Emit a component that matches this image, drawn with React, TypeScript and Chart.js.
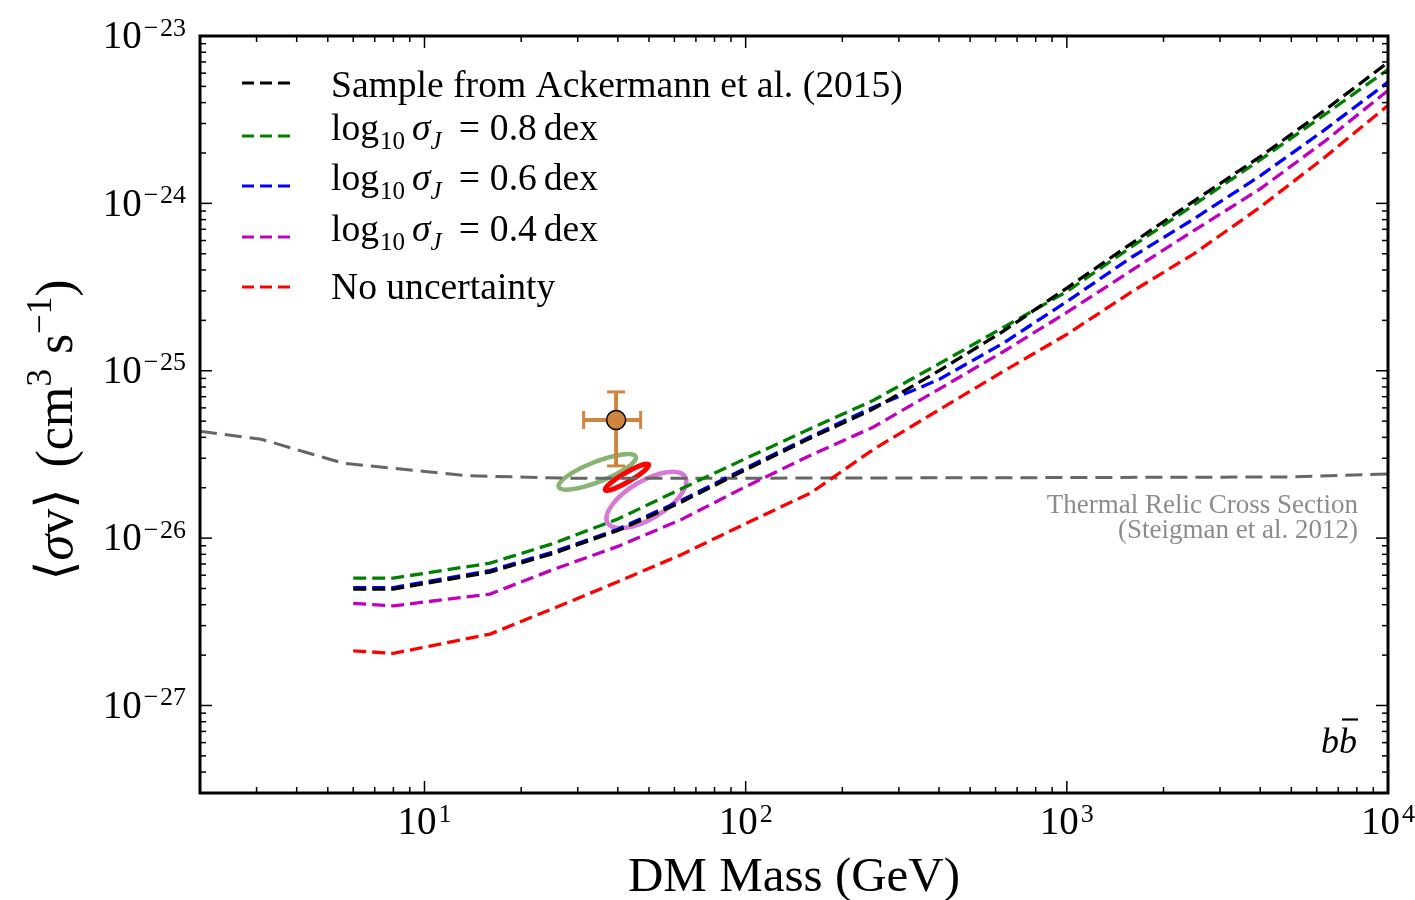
import React, { useEffect, useRef } from 'react';
import { Chart, registerables } from 'chart.js';

Chart.register(...registerables);

// ---------------- data ----------------
const masses = [6, 8, 16, 25, 40, 63, 100, 160, 250, 400, 630, 1000, 1600, 2500, 4000, 6300, 10000];
const ackermann2015 = [4.96e-27, 4.96e-27, 6.27e-27, 8.06e-27, 1.11e-26, 1.64e-26, 2.56e-26, 3.98e-26, 5.92e-26, 1.0e-25, 1.71e-25, 3.12e-25, 5.81e-25, 1.04e-24, 1.9e-24, 3.56e-24, 6.95e-24];
const sigmaJ08 = [5.77e-27, 5.77e-27, 7.09e-27, 9.25e-27, 1.3e-26, 1.97e-26, 2.99e-26, 4.53e-26, 6.66e-26, 1.1e-25, 1.8e-25, 2.97e-25, 5.55e-25, 9.86e-25, 1.82e-24, 3.35e-24, 6.31e-24];
const sigmaJ06 = [5.06e-27, 5.06e-27, 6.4e-27, 8.23e-27, 1.13e-26, 1.68e-26, 2.62e-26, 4.06e-26, 6.06e-26, 8.87e-26, 1.45e-25, 2.59e-25, 4.8e-25, 8.13e-25, 1.46e-24, 2.72e-24, 5.3e-24];
const sigmaJ04 = [4.07e-27, 3.94e-27, 4.63e-27, 6.46e-27, 8.92e-27, 1.29e-26, 2.03e-26, 3.14e-26, 4.61e-26, 7.77e-26, 1.29e-25, 2.23e-25, 4.0e-25, 6.92e-25, 1.22e-24, 2.32e-24, 4.73e-24];
const noUncertainty = [2.12e-27, 2.05e-27, 2.67e-27, 3.78e-27, 5.49e-27, 7.96e-27, 1.22e-26, 1.87e-26, 3.39e-26, 5.84e-26, 9.84e-26, 1.65e-25, 2.98e-25, 5.03e-25, 9.5e-25, 1.86e-24, 3.85e-24];

const thermalMasses = [2, 3.1, 5.6, 13.5, 28, 100, 1000, 5000, 10000];
const thermalRelic = [4.35e-26, 3.9e-26, 2.8e-26, 2.36e-26, 2.28e-26, 2.28e-26, 2.3e-26, 2.32e-26, 2.42e-26];

const fitMass = 39.5;
const fitMassRange = [31.3, 47.1];
const fitCrossSection = 5.08e-26;
const fitCrossSectionRange = [2.7e-26, 7.47e-26];

const contourCenterMass = [34.5, 42.7, 49.1];
const contourCenterSv = [2.49e-26, 2.31e-26, 1.69e-26];
const contourMajorTipMass = [45.5, 49.9, 64.8];
const contourMajorTipSv = [3.07e-26, 2.75e-26, 2.32e-26];
const contourMinorTipMass = [35.4, 43.45, 52.6];
const contourMinorTipSv = [2.19e-26, 2.19e-26, 1.35e-26];

const xTickExponents = [1, 2, 3, 4];
const yTickExponents = [-27, -26, -25, -24, -23];

const seriesLabels = [
  'Sample from Ackermann et al. (2015)',
  'log10 σJ = 0.8 dex',
  'log10 σJ = 0.6 dex',
  'log10 σJ = 0.4 dex',
  'No uncertainty',
];
const legendValues = ['0.8', '0.6', '0.4'];

// ---------------- styles ----------------
const seriesColors = ['#000000', '#008000', '#0000ff', '#bf00bf', '#ff0000'];
const contourColors = ['#88b373', '#ff0000', '#d878d4'];
const contourWidths = [4.5, 5, 4.5];
const FONT = '"Liberation Serif", "DejaVu Serif", "DejaVu Sans", serif';
const R = (s: number) => `${s}px ${FONT}`;
const I = (s: number) => `italic ${s}px ${FONT}`;

type Seg = { t: string; f: string; dy?: number; pre?: number };

function drawRich(ctx: CanvasRenderingContext2D, segs: Seg[], x: number, y: number, align: 'left' | 'center' | 'right') {
  let total = 0;
  for (const s of segs) {
    ctx.font = s.f;
    total += ctx.measureText(s.t).width + (s.pre || 0);
  }
  let cx = align === 'left' ? x : align === 'center' ? x - total / 2 : x - total;
  ctx.textAlign = 'left';
  ctx.textBaseline = 'alphabetic';
  for (const s of segs) {
    ctx.font = s.f;
    cx += s.pre || 0;
    ctx.fillText(s.t, cx, y + (s.dy || 0));
    cx += ctx.measureText(s.t).width;
  }
}

function line(ctx: CanvasRenderingContext2D, x1: number, y1: number, x2: number, y2: number) {
  ctx.beginPath();
  ctx.moveTo(x1, y1);
  ctx.lineTo(x2, y2);
  ctx.stroke();
}

const contourPlugin = {
  id: 'contours',
  beforeDatasetsDraw(chart: any) {
    const ctx = chart.ctx as CanvasRenderingContext2D;
    const xs = chart.scales.x;
    const ys = chart.scales.y;
    ctx.save();
    for (let i = 0; i < contourCenterMass.length; i++) {
      const cx = xs.getPixelForValue(contourCenterMass[i]);
      const cy = ys.getPixelForValue(contourCenterSv[i]);
      const mx = xs.getPixelForValue(contourMajorTipMass[i]);
      const my = ys.getPixelForValue(contourMajorTipSv[i]);
      const nx = xs.getPixelForValue(contourMinorTipMass[i]);
      const ny = ys.getPixelForValue(contourMinorTipSv[i]);
      const a = Math.hypot(mx - cx, my - cy);
      const b = Math.hypot(nx - cx, ny - cy);
      const ang = Math.atan2(my - cy, mx - cx);
      ctx.beginPath();
      ctx.ellipse(cx, cy, a, b, ang, 0, Math.PI * 2);
      ctx.strokeStyle = contourColors[i];
      ctx.lineWidth = contourWidths[i];
      ctx.stroke();
    }
    ctx.restore();
  },
  afterDatasetsDraw(chart: any) {
    const ctx = chart.ctx as CanvasRenderingContext2D;
    const xs = chart.scales.x;
    const ys = chart.scales.y;
    const px = xs.getPixelForValue(fitMass);
    const py = ys.getPixelForValue(fitCrossSection);
    const x1 = xs.getPixelForValue(fitMassRange[0]);
    const x2 = xs.getPixelForValue(fitMassRange[1]);
    const y1 = ys.getPixelForValue(fitCrossSectionRange[0]);
    const y2 = ys.getPixelForValue(fitCrossSectionRange[1]);
    ctx.save();
    ctx.strokeStyle = '#cd853f';
    ctx.lineWidth = 4;
    line(ctx, x1, py, x2, py);
    line(ctx, px, y1, px, y2);
    ctx.lineWidth = 3;
    const cap = 9;
    line(ctx, x1, py - cap, x1, py + cap);
    line(ctx, x2, py - cap, x2, py + cap);
    line(ctx, px - cap, y1, px + cap, y1);
    line(ctx, px - cap, y2, px + cap, y2);
    ctx.beginPath();
    ctx.arc(px, py, 9.5, 0, Math.PI * 2);
    ctx.fillStyle = '#cd853f';
    ctx.fill();
    ctx.lineWidth = 1.5;
    ctx.strokeStyle = '#000000';
    ctx.stroke();
    ctx.restore();
  },
  afterDraw(chart: any) {
    const ctx = chart.ctx as CanvasRenderingContext2D;
    const xs = chart.scales.x;
    const ys = chart.scales.y;
    const { left, right, top, bottom } = chart.chartArea;
    ctx.save();
    // ticks
    ctx.strokeStyle = '#000';
    ctx.lineWidth = 1.5;
    for (let e = 0; e <= 4; e++) {
      for (let k = 1; k <= 9; k++) {
        const v = k * Math.pow(10, e);
        if (v < 2 * 0.999 || v > 10000 * 1.001) continue;
        const p = xs.getPixelForValue(v);
        const len = k === 1 ? 12 : 6;
        line(ctx, p, bottom, p, bottom - len);
        line(ctx, p, top, p, top + len);
      }
    }
    for (let e = -28; e <= -23; e++) {
      for (let k = 1; k <= 9; k++) {
        const v = k * Math.pow(10, e);
        if (v < 3e-28 * 0.999 || v > 1e-23 * 1.001) continue;
        const p = ys.getPixelForValue(v);
        const len = k === 1 ? 12 : 6;
        line(ctx, left, p, left + len, p);
        line(ctx, right, p, right - len, p);
      }
    }
    // frame
    ctx.lineWidth = 3;
    ctx.strokeRect(left, top, right - left, bottom - top);

    ctx.fillStyle = '#000';
    // tick labels
    for (const e of xTickExponents) {
      const p = xs.getPixelForValue(Math.pow(10, e));
      drawRich(ctx, [{ t: '10', f: R(39) }, { t: String(e), f: R(26), dy: -12.6, pre: 2 }], p, bottom + 41.3, 'center');
    }
    for (const e of yTickExponents) {
      const p = ys.getPixelForValue(Math.pow(10, e));
      drawRich(
        ctx,
        [
          { t: '10', f: R(39) },
          { t: '\u2212', f: R(26), dy: -12.6, pre: 2 },
          { t: String(-e), f: R(26), dy: -12.6, pre: 1.5 },
        ],
        left - 14,
        p + 12.3,
        'right'
      );
    }

    // axis titles
    drawRich(ctx, [{ t: 'DM Mass (GeV)', f: R(49) }], (left + right) / 2, 891, 'center');
    ctx.save();
    ctx.translate(72, 430);
    ctx.rotate(-Math.PI / 2);
    drawRich(
      ctx,
      [
        { t: '\u27E8', f: R(52) },
        { t: 'σ', f: I(52) },
        { t: 'v', f: R(52) },
        { t: '\u27E9', f: R(52) },
        { t: ' (cm', f: R(52), pre: 8 },
        { t: '3', f: R(35), dy: -21 },
        { t: ' s', f: R(52), pre: 2 },
        { t: '\u22121', f: R(35), dy: -21 },
        { t: ')', f: R(52) },
      ],
      0,
      0,
      'center'
    );
    ctx.restore();

    // legend
    const lineYs = [83, 136, 186, 237, 287];
    const baseYs = [97, 140, 190, 241, 299];
    for (let i = 0; i < 5; i++) {
      ctx.save();
      ctx.strokeStyle = seriesColors[i];
      ctx.lineWidth = 3;
      ctx.setLineDash([12, 6]);
      line(ctx, 242, lineYs[i], 293, lineYs[i]);
      ctx.restore();
      ctx.fillStyle = '#000';
      if (i === 0 || i === 4) {
        drawRich(ctx, [{ t: seriesLabels[i], f: R(37.6) }], 331, baseYs[i], 'left');
      } else {
        drawRich(
          ctx,
          [
            { t: 'log', f: R(37.6) },
            { t: '10', f: R(25), dy: 9, pre: 1 },
            { t: 'σ', f: I(37.6), pre: 7 },
            { t: 'J', f: I(25), dy: 9 },
            { t: '=', f: R(37.6), pre: 17 },
            { t: legendValues[i - 1], f: R(37.6), pre: 10 },
            { t: 'dex', f: R(37.6), pre: 7 },
          ],
          331,
          baseYs[i],
          'left'
        );
      }
    }

    // annotations
    ctx.fillStyle = '#8c8c8c';
    drawRich(ctx, [{ t: 'Thermal Relic Cross Section', f: R(27) }], 1358, 513, 'right');
    drawRich(ctx, [{ t: '(Steigman et al. 2012)', f: R(27) }], 1358, 538, 'right');

    // b b-bar
    ctx.fillStyle = '#000';
    ctx.font = I(36);
    const wb = ctx.measureText('b').width;
    const bx = 1357 - 2 * wb;
    ctx.textAlign = 'left';
    ctx.fillText('b', bx, 753);
    ctx.fillText('b', bx + wb, 753);
    ctx.lineWidth = 2.2;
    ctx.strokeStyle = '#000';
    line(ctx, bx + wb + 3, 719.5, bx + 2 * wb + 1, 719.5);
    ctx.restore();
  },
};

export default function App() {
  const ref = useRef<HTMLCanvasElement | null>(null);
  useEffect(() => {
    if (!ref.current) return;
    const mk = (ys: number[], i: number) => ({
      label: seriesLabels[i],
      data: masses.map((m, j) => ({ x: m, y: ys[j] })),
      borderColor: seriesColors[i],
      borderWidth: 3.3,
      borderDash: [13, 6],
      pointRadius: 0,
      fill: false,
      tension: 0,
    });
    const chart = new Chart(ref.current, {
      type: 'line',
      data: {
        datasets: [
          mk(ackermann2015, 0),
          mk(sigmaJ08, 1),
          mk(sigmaJ06, 2),
          mk(sigmaJ04, 3),
          mk(noUncertainty, 4),
          {
            label: 'Thermal Relic Cross Section',
            data: thermalMasses.map((m, j) => ({ x: m, y: thermalRelic[j] })),
            borderColor: '#666666',
            borderWidth: 3,
            borderDash: [17, 8],
            pointRadius: 0,
            fill: false,
            tension: 0,
          },
        ] as any,
      },
      options: {
        animation: false,
        responsive: false,
        devicePixelRatio: 1,
        events: [],
        layout: { padding: { left: 200, top: 36, right: 27, bottom: 107 } },
        scales: {
          x: { type: 'logarithmic', min: 2, max: 10000, display: false },
          y: { type: 'logarithmic', min: 3e-28, max: 1e-23, display: false },
        },
        plugins: { legend: { display: false }, tooltip: { enabled: false } },
      },
      plugins: [contourPlugin],
    } as any);
    return () => chart.destroy();
  }, []);
  return (
    <div style={{ position: 'absolute', left: 0, top: 0, width: 1415, height: 900, background: '#fff' }}>
      <canvas ref={ref} width={1415} height={900} style={{ width: 1415, height: 900 }} />
    </div>
  );
}
